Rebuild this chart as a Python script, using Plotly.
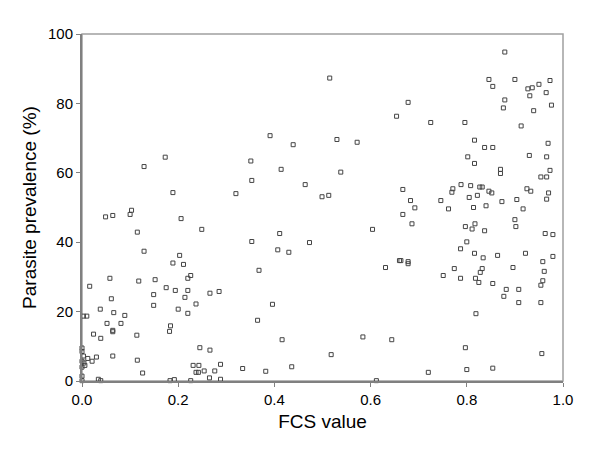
import plotly.graph_objects as go

# FCS value vs parasite prevalence
fcs = [
    0.049, 0.064, 0.100, 0.103, 0.115, 0.129, 0.206, 0.249, 0.203, 0.189,
    0.211, 0.220, 0.226, 0.058, 0.016, 0.118, 0.152, 0.175, 0.194, 0.220,
    0.214, 0.266, 0.285, 0.061, 0.149, 0.237, 0.149, 0.038, 0.066, 0.089,
    0.200, 0.220, 0.003, 0.010, 0.052, 0.081, 0.184, 0.182, 0.064, 0.064,
    0.024, 0.039, 0.114, 0.245, 0.266, 0.000, 0.000, 0.003, 0.064, 0.012,
    0.030, 0.021, 0.000, 0.004, 0.006, 0.000, 0.115, 0.231, 0.243, 0.288,
    0.237, 0.242, 0.254, 0.276, 0.126, 0.000, 0.000, 0.034, 0.039, 0.183,
    0.192, 0.226, 0.265, 0.288, 0.129, 0.173, 0.189, 0.320,
    0.515, 0.654, 0.391, 0.439, 0.530, 0.572, 0.351, 0.414, 0.538, 0.353,
    0.464, 0.499, 0.513, 0.411, 0.353, 0.407, 0.430, 0.473, 0.368, 0.604,
    0.631, 0.660, 0.396, 0.365, 0.416, 0.584, 0.644, 0.518, 0.334, 0.382,
    0.436, 0.612,
    0.879, 0.846, 0.900, 0.854, 0.973, 0.950, 0.936, 0.927, 0.965, 0.931,
    0.879, 0.876, 0.939, 0.976, 0.678, 0.725, 0.796, 0.913, 0.816, 0.837,
    0.854, 0.969, 0.802, 0.930, 0.966, 0.816, 0.870, 0.870, 0.973, 0.954,
    0.966, 0.667, 0.788, 0.808, 0.827, 0.832, 0.771, 0.769, 0.846, 0.852,
    0.925, 0.933, 0.970, 0.822, 0.805, 0.683, 0.746, 0.873, 0.904, 0.966,
    0.692, 0.762, 0.814, 0.840, 0.917,
    0.667, 0.686, 0.797, 0.817, 0.811, 0.837, 0.900, 0.902, 0.963, 0.979,
    0.800, 0.787, 0.816, 0.834, 0.864, 0.922, 0.979, 0.663, 0.678, 0.678,
    0.958, 0.896, 0.774, 0.832, 0.828, 0.961, 0.751, 0.787, 0.818, 0.825,
    0.854, 0.958, 0.954, 0.882, 0.908, 0.877, 0.908, 0.954, 0.819, 0.797,
    0.956, 0.720, 0.800, 0.854,
]
prevalence = [
    47.3, 47.7, 48.0, 49.2, 42.9, 37.4, 46.8, 43.7, 36.2, 34.0,
    33.6, 29.6, 30.4, 29.6, 27.3, 28.8, 29.2, 26.9, 26.1, 26.1,
    24.1, 25.3, 25.8, 23.7, 24.9, 22.2, 21.8, 20.7, 19.7, 18.9,
    20.7, 19.5, 18.7, 18.7, 16.6, 16.6, 15.9, 14.3, 14.6, 14.2,
    13.5, 12.3, 13.2, 9.6, 8.9, 9.5, 8.5, 7.2, 7.2, 6.5,
    6.9, 5.7, 5.7, 5.2, 4.5, 4.0, 6.0, 4.5, 4.5, 4.8,
    2.5, 2.5, 2.9, 2.9, 2.3, 1.4, 0.1, 0.5, 0.1, 0.1,
    0.4, 0.1, 0.9, 0.5, 61.8, 64.5, 54.3, 54.0,
    87.3, 76.3, 70.7, 68.1, 69.6, 68.8, 63.4, 61.0, 60.2, 57.8,
    56.6, 53.1, 53.5, 42.5, 40.2, 37.8, 37.1, 39.9, 31.9, 43.7,
    32.7, 34.7, 22.1, 17.5, 11.9, 12.7, 11.9, 7.6, 3.6, 2.8,
    4.1, 0.1,
    94.8, 86.9, 86.9, 84.9, 86.6, 85.5, 84.5, 84.2, 83.1, 82.2,
    81.0, 78.7, 77.9, 79.5, 80.3, 74.5, 74.5, 73.5, 69.4, 67.3,
    67.3, 68.5, 64.6, 65.0, 64.6, 62.7, 61.0, 59.8, 60.7, 58.8,
    58.8, 55.2, 56.6, 56.3, 55.9, 55.9, 55.4, 54.4, 54.7, 54.2,
    55.4, 54.7, 54.2, 53.5, 52.9, 52.0, 52.0, 51.7, 52.3, 52.4,
    49.9, 49.6, 50.0, 50.5, 49.6,
    48.0, 45.3, 44.5, 45.3, 43.8, 43.3, 46.5, 44.5, 42.5, 42.2,
    40.1, 38.1, 36.8, 35.5, 36.2, 36.8, 35.9, 34.7, 34.4, 33.8,
    34.4, 32.7, 32.4, 32.4, 31.3, 31.6, 30.4, 29.6, 29.6, 28.4,
    28.1, 28.9, 27.6, 26.4, 26.4, 24.4, 22.6, 22.6, 19.4, 9.6,
    7.9, 2.5, 3.3, 3.7,
]

x_ticks = [0.0, 0.2, 0.4, 0.6, 0.8, 1.0]
y_ticks = [0, 20, 40, 60, 80, 100]

fig = go.Figure(go.Scatter(
    x=fcs, y=prevalence, mode='markers',
    marker=dict(symbol='square-open', size=4, color='#444',
                line=dict(width=1, color='#444')),
    cliponaxis=False, showlegend=False,
))

# light box round the plot area
fig.add_shape(type='rect', xref='paper', yref='paper', x0=0, y0=0, x1=1, y1=1,
              line=dict(color='#a0a0a0', width=1.5), layer='below')

axis_font = dict(family='Liberation Sans, Arial', size=15, color='black')
title_font = dict(family='Liberation Sans, Arial', size=19, color='black')
fig.update_xaxes(range=[0, 1], tickvals=x_ticks, tickformat='.1f',
                 showgrid=False, zeroline=False, showline=True,
                 linecolor='#808080', linewidth=2, ticks='outside',
                 ticklen=4, tickcolor='#808080', tickfont=axis_font,
                 title=dict(text='FCS value', font=title_font, standoff=8))
fig.update_yaxes(range=[0, 100], tickvals=y_ticks,
                 showgrid=False, zeroline=False, showline=True,
                 linecolor='#808080', linewidth=2, ticks='outside',
                 ticklen=4, tickcolor='#808080', tickfont=axis_font,
                 title=dict(text='Parasite prevalence (%)', font=title_font,
                            standoff=6))

# page body adds an 8px offset, so margins are shifted to compensate
fig.update_layout(
    width=600, height=456,
    plot_bgcolor='white', paper_bgcolor='white',
    font=dict(family='Liberation Sans, Arial', color='black'),
    margin=dict(l=74, r=45, t=26, b=83),
)

fig.write_html("out.html")
